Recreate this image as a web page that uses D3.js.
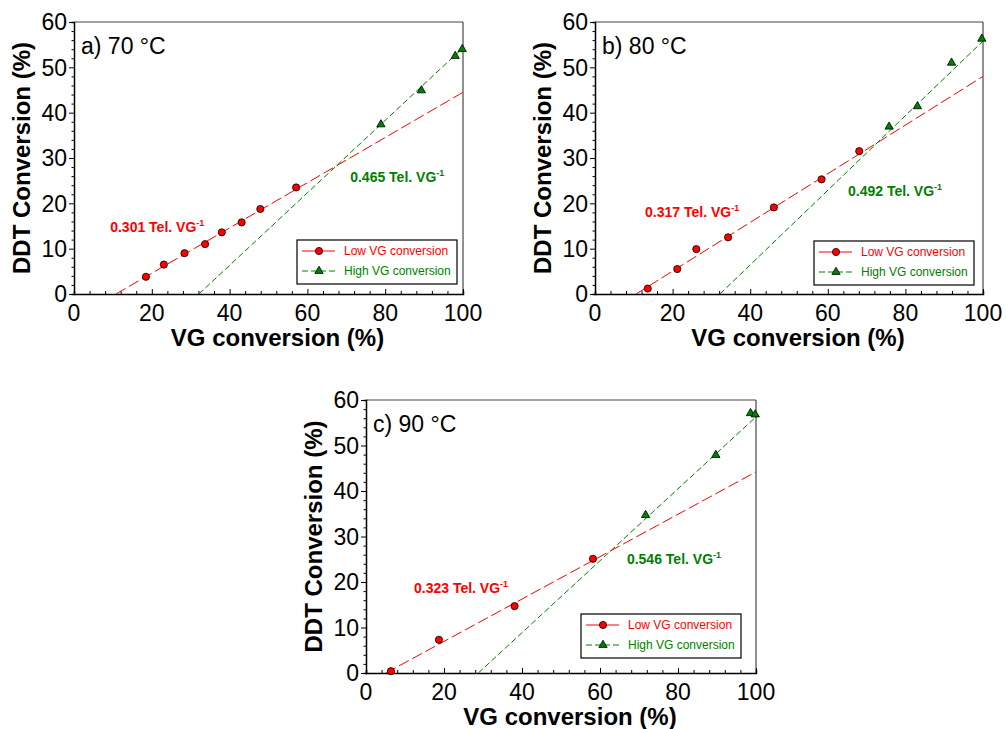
<!DOCTYPE html>
<html>
<head>
<meta charset="utf-8">
<script src="https://cdn.jsdelivr.net/npm/d3@7"></script>
<style>
  body { margin: 0; background: #fff; }
  svg { font-family: "Liberation Sans", Arial, sans-serif; }
</style>
</head>
<body>
<svg id="chart" width="1006" height="729"></svg>
<script>
// data: [VG conversion %, DDT conversion %]
var lowA  = [[18.5,3.8],[23.1,6.5],[28.4,9.0],[33.7,11.0],[38.0,13.6],[43.1,15.8],[47.9,18.75],[57.1,23.5]];
var highA = [[78.9,37.4],[89.3,44.9],[98.0,52.5],[99.8,54.0]];
var lowB  = [[13.6,1.2],[21.2,5.5],[26.1,9.9],[34.3,12.5],[46.1,19.1],[58.4,25.3],[68.1,31.5]];
var highB = [[75.8,36.9],[83.1,41.4],[91.9,51.0],[99.7,56.3]];
var lowC  = [[6.4,0.4],[18.7,7.3],[38.1,14.7],[58.2,25.1]];
var highC = [[71.7,34.7],[89.7,47.9],[98.6,57.1],[99.8,56.8]];

// fitted lines as drawn (end points)
var lowFitA  = [[10.8,0],[100,44.5]];
var highFitA = [[32.1,0],[100,54.3]];
var lowFitB  = [[10.6,0],[100,48.0]];
var highFitB = [[32.2,0],[100,55.8]];
var lowFitC  = [[5.1,0],[100,44.2]];
var highFitC = [[28.8,0],[100,56.3]];

var slopeLabels = [["0.301","0.465"],["0.317","0.492"],["0.323","0.546"]];
var panelTitles = ["a) 70 °C", "b) 80 °C", "c) 90 °C"];
var xTicks = [0, 20, 40, 60, 80, 100];
var yTicks = [0, 10, 20, 30, 40, 50, 60];

var RED = "#ff0000", GREEN = "#008000";

var panels = [
  {title: panelTitles[0], low: lowA, high: highA, lowFit: lowFitA, highFit: highFitA, slopes: slopeLabels[0],
   box: [74, 463, 22, 294], redAt: [9.3, 13.7], greenAt: [71, 24.7], leg: [6, 10]},
  {title: panelTitles[1], low: lowB, high: highB, lowFit: lowFitB, highFit: highFitB, slopes: slopeLabels[1],
   box: [595, 983, 22, 294], redAt: [12.9, 17.0], greenAt: [65.2, 21.6], leg: [9, 9]},
  {title: panelTitles[2], low: lowC, high: highC, lowFit: lowFitC, highFit: highFitC, slopes: slopeLabels[2],
   box: [366, 756, 400, 673], redAt: [12.3, 17.6], greenAt: [66.9, 24.0], leg: [15, 15]}
];

var svg = d3.select("#chart");
var tri = d3.symbol().type(d3.symbolTriangle).size(30);

panels.forEach(function(p, i) {
  var L = p.box[0], R = p.box[1], T = p.box[2], B = p.box[3];
  var x = d3.scaleLinear().domain([0, 100]).range([L, R]);
  var y = d3.scaleLinear().domain([0, 60]).range([B, T]);
  var g = svg.append("g");

  var clipId = "clip" + i;
  g.append("clipPath").attr("id", clipId)
    .append("rect").attr("x", L).attr("y", T).attr("width", R - L).attr("height", B - T);

  // frame top/right
  g.append("line").attr("x1", L).attr("x2", R).attr("y1", T).attr("y2", T)
    .attr("stroke", "#444").attr("stroke-width", 1);
  g.append("line").attr("x1", R).attr("x2", R).attr("y1", T).attr("y2", B)
    .attr("stroke", "#222").attr("stroke-width", 1);

  // y axis (ticks outward)
  var yAx = g.append("g").attr("transform", "translate(" + L + ",0)")
    .call(d3.axisLeft(y).tickValues(d3.range(0, 61, 2)).tickSize(2.5).tickFormat(""));
  yAx.selectAll(".tick line").filter(function(d) { return d % 10 === 0; }).attr("x2", -5);
  yAx.select(".domain").attr("stroke-width", 1.5);
  g.selectAll(".ylab").data(yTicks).enter().append("text")
    .attr("x", L - 7).attr("y", function(d) { return y(d); }).attr("dy", "0.36em")
    .attr("text-anchor", "end").attr("font-size", 23).text(function(d) { return d; });

  // x axis (ticks inward)
  var xAx = g.append("g").attr("transform", "translate(0," + B + ")")
    .call(d3.axisBottom(x).tickValues(d3.range(0, 101, 4)).tickSize(-3).tickFormat(""));
  xAx.selectAll(".tick line").filter(function(d) { return d % 20 === 0; }).attr("y2", -5);
  xAx.select(".domain").attr("stroke-width", 1.5);
  g.selectAll(".xlab").data(xTicks).enter().append("text")
    .attr("x", function(d) { return x(d); }).attr("y", B + 27)
    .attr("text-anchor", "middle").attr("font-size", 23).text(function(d) { return d; });

  // titles
  g.append("text").attr("x", (L + R) / 2 + 9).attr("y", B + 52)
    .attr("text-anchor", "middle").attr("font-size", 24).attr("font-weight", "bold")
    .text("VG conversion (%)");
  g.append("text").attr("transform", "translate(" + (L - 44) + "," + ((T + B) / 2) + ") rotate(-90)")
    .attr("text-anchor", "middle").attr("font-size", 24).attr("font-weight", "bold")
    .text("DDT Conversion (%)");
  g.append("text").attr("x", L + 7).attr("y", T + 32).attr("font-size", 23).text(p.title);

  // fit lines
  var line = d3.line().x(function(d) { return x(d[0]); }).y(function(d) { return y(d[1]); });
  var plot = g.append("g").attr("clip-path", "url(#" + clipId + ")");
  plot.append("path").attr("d", line(p.lowFit)).attr("fill", "none")
    .attr("stroke", RED).attr("stroke-width", 1).attr("stroke-dasharray", "11,4");
  plot.append("path").attr("d", line(p.highFit)).attr("fill", "none")
    .attr("stroke", GREEN).attr("stroke-width", 1).attr("stroke-dasharray", "6,3");

  // markers
  g.selectAll(".lo").data(p.low).enter().append("circle")
    .attr("cx", function(d) { return x(d[0]); }).attr("cy", function(d) { return y(d[1]); })
    .attr("r", 3.6).attr("fill", RED).attr("stroke", "#000").attr("stroke-width", 0.8);
  g.selectAll(".hi").data(p.high).enter().append("path")
    .attr("d", tri)
    .attr("transform", function(d) { return "translate(" + x(d[0]) + "," + y(d[1]) + ")"; })
    .attr("fill", GREEN).attr("stroke", "#000").attr("stroke-width", 0.8);

  // slope annotations
  function slopeText(at, val, col) {
    var t = g.append("text").attr("x", x(at[0])).attr("y", y(at[1]))
      .attr("font-size", 14).attr("font-weight", "bold").attr("fill", col);
    t.append("tspan").text(val + " Tel. VG");
    t.append("tspan").attr("font-size", 9).attr("dy", -6).text("-1");
  }
  slopeText(p.redAt, p.slopes[0], RED);
  slopeText(p.greenAt, p.slopes[1], GREEN);

  // legend
  var lw = 160, lh = 44;
  var lx = R - p.leg[0] - lw, ly = B - p.leg[1] - lh;
  var leg = g.append("g").attr("transform", "translate(" + lx + "," + ly + ")");
  leg.append("rect").attr("width", lw).attr("height", lh)
    .attr("fill", "#fff").attr("stroke", "#000").attr("stroke-width", 1.2);
  leg.append("line").attr("x1", 5).attr("x2", 38).attr("y1", 11).attr("y2", 11)
    .attr("stroke", RED).attr("stroke-width", 1);
  leg.append("circle").attr("cx", 22).attr("cy", 11).attr("r", 3.6)
    .attr("fill", RED).attr("stroke", "#000").attr("stroke-width", 0.8);
  leg.append("text").attr("x", 47).attr("y", 11).attr("dy", "0.36em")
    .attr("font-size", 12).attr("fill", RED).text("Low VG conversion");
  leg.append("line").attr("x1", 5).attr("x2", 40).attr("y1", 31).attr("y2", 31)
    .attr("stroke", GREEN).attr("stroke-width", 1).attr("stroke-dasharray", "6,3");
  leg.append("path").attr("d", tri).attr("transform", "translate(22,31)")
    .attr("fill", GREEN).attr("stroke", "#000").attr("stroke-width", 0.8);
  leg.append("text").attr("x", 47).attr("y", 31).attr("dy", "0.36em")
    .attr("font-size", 12).attr("fill", GREEN).text("High VG conversion");
});
</script>
</body>
</html>
